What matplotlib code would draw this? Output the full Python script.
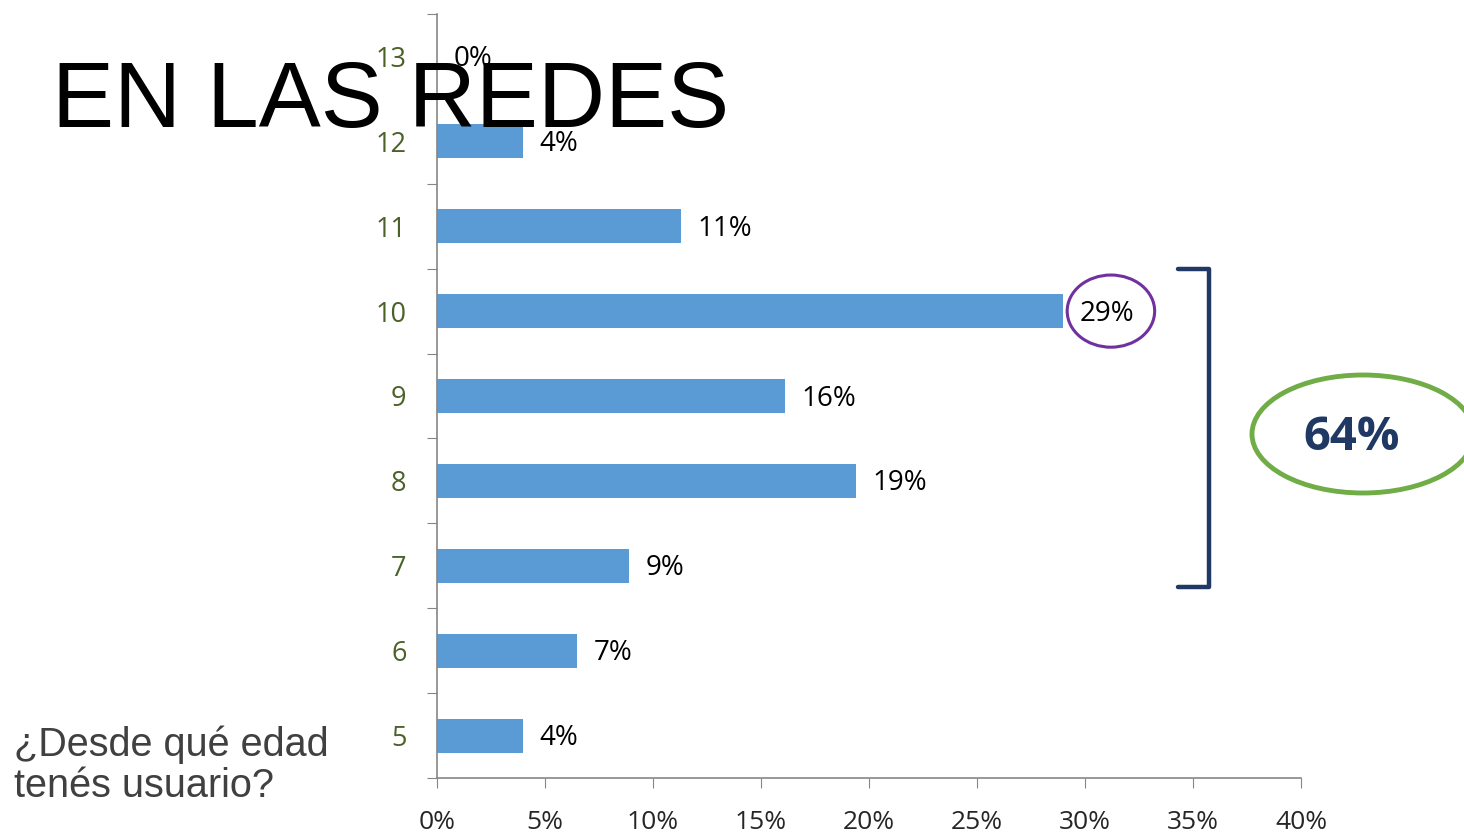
import matplotlib
matplotlib.use("Agg")
import matplotlib.pyplot as plt
from matplotlib.patches import Ellipse
from matplotlib.ticker import FuncFormatter

ages = ["5", "6", "7", "8", "9", "10", "11", "12", "13"]
values = [4.0, 6.5, 8.9, 19.4, 16.1, 29.0, 11.3, 4.0, 0.0]
labels = ["4%", "7%", "9%", "19%", "16%", "29%", "11%", "4%", "0%"]
x_ticks = [0, 5, 10, 15, 20, 25, 30, 35, 40]

W, H = 1464, 832
fig = plt.figure(figsize=(W / 100, H / 100), dpi=100)
ax = fig.add_axes([437 / W, 1 - 778 / H, (1301 - 437) / W, (778 - 14) / H])

def px(x, y):
    """pixel coords -> figure fraction"""
    return x / W, 1 - y / H

pos = list(range(len(ages)))
ax.barh(pos, values, height=0.4, color="#5B9BD5")
for p, v, lab in zip(pos, values, labels):
    ax.text(v + 0.75, p - 0.03, lab, va="center", ha="left",
            fontsize=20, family="Open Sans", color="black")

ax.set_xlim(0, 40)
ax.set_ylim(-0.5, len(ages) - 0.5)
ax.set_xticks(x_ticks)
ax.xaxis.set_major_formatter(FuncFormatter(lambda v, _: f"{v:.0f}%"))
ax.set_yticks([p - 0.5 for p in pos] + [len(ages) - 0.5])
ax.set_yticklabels([])
ax.set_yticks(pos, minor=True)
ax.set_yticklabels(ages, minor=True)
ax.tick_params(axis="y", which="minor", length=0, pad=22, labelsize=19.5,
               labelcolor="#4A6127")
ax.tick_params(axis="y", which="major", length=7, color="#868686", direction="out")
ax.tick_params(axis="x", length=7, color="#868686", pad=16, labelsize=19,
               labelcolor="#262626")
for t in ax.get_xticklabels() + ax.get_yticklabels(minor=True):
    t.set_family("Open Sans")
for s in ["top", "right"]:
    ax.spines[s].set_visible(False)
for s in ["left", "bottom"]:
    ax.spines[s].set_color("#868686")
    ax.spines[s].set_linewidth(1.2)

# purple ring around the 10-year bar label
i10 = ages.index("10")
ax.add_patch(Ellipse((values[i10] + 2.2, i10), 4.05, 0.85, fill=False,
                     edgecolor="#7030A0", lw=2.2, clip_on=False))

# bracket grouping ages 7-10
bx0, bx1 = 34.3, 35.75
by_top, by_bot = 5.5, 1.75
ax.plot([bx0, bx1, bx1, bx0], [by_top, by_top, by_bot, by_bot],
        color="#1F3864", lw=3.2, clip_on=False, solid_joinstyle="round",
        solid_capstyle="round")

# green ellipse with total
fig.patches.append(Ellipse(px(1363, 434), 222 / W, 118 / H, fill=False,
                           edgecolor="#70AD47", lw=3.5,
                           transform=fig.transFigure, figure=fig))
fig.text(*px(1352, 437), "64%", ha="center", va="center", fontsize=34,
         fontweight="bold", family="Open Sans", color="#1F3864")

fig.text(*px(52, 127), "EN LAS REDES", ha="left", va="baseline",
         fontsize=67, family="Liberation Sans", color="black")
fig.text(*px(14, 797), "¿Desde qué edad\ntenés usuario?", ha="left",
         va="baseline", fontsize=28.5, family="Liberation Sans",
         color="#404040", linespacing=1.1)

fig.savefig("out.png", dpi=100)
